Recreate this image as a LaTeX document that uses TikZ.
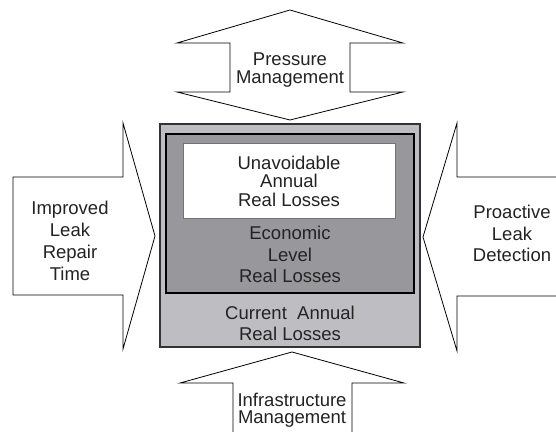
\documentclass[tikz,border=0pt]{standalone}
\usepackage{fontspec}
\setmainfont{Liberation Sans}
\definecolor{outergray}{RGB}{190,190,194}
\definecolor{innergray}{RGB}{152,152,156}
\definecolor{txt}{RGB}{35,35,35}
\begin{document}
\begin{tikzpicture}[x=1pt,y=-1pt,
  arrowshape/.style={draw=black, fill=white, line width=0.8pt, line join=miter},
  arrowline/.style={draw=black, line width=0.8pt, line join=miter},
  lbl/.style={align=center, text=txt, inner sep=0pt},
  tight/.style={font=\fontsize{18.5}{18.5}\selectfont},
  loose/.style={font=\fontsize{18.5}{21.8}\selectfont}]
\useasboundingbox (0,0) rectangle (556,431);
% top double arrow
\draw[arrowshape] (290,10) -- (403,43) -- (350,43) -- (350,92) -- (403,92) -- (290,120)
  -- (177,92) -- (230,92) -- (230,43) -- (177,43) -- cycle;
% left arrow
\draw[arrowshape] (13,177) -- (123,177) -- (123,123) -- (155,236) -- (123,349)
  -- (123,295) -- (13,295) -- cycle;
% right arrow (open at right edge)
\fill[white] (558,177) -- (457,177) -- (457,123) -- (423,237) -- (457,351) -- (457,296) -- (558,296) -- cycle;
\draw[arrowline] (558,177) -- (457,177) -- (457,123) -- (423,237) -- (457,351) -- (457,296) -- (558,296);
% bottom arrow (open at bottom edge)
\fill[white] (233,433) -- (233,383) -- (180,383) -- (292,352) -- (404,383) -- (352,383) -- (352,433) -- cycle;
\draw[arrowline] (233,433) -- (233,383) -- (180,383) -- (292,352) -- (404,383) -- (352,383) -- (352,433);
% boxes
\draw[fill=outergray, draw=black!80, line width=1.2pt] (160,124) rectangle (420,347);
\draw[fill=innergray, draw=black, line width=1.8pt] (166,134) rectangle (414,293);
\draw[fill=white, draw=black!55, line width=1pt] (183,143) rectangle (395,218);
% labels
\node[lbl, tight] (press) at (290,70) {Pressure\\Management};
\node[lbl, tight] (unav) at (289,181) {Unavoidable\\Annual\\Real Losses};
\node[lbl, loose] (econ) at (290,254.5) {Economic\\Level\\Real Losses};
\node[lbl, font=\fontsize{18.5}{21}\selectfont] (curr) at (290,323) {Current\ \ Annual\\Real Losses};
\node[lbl, loose] (impr) at (70,241) {Improved\\Leak\\Repair\\Time};
\node[lbl, loose] (proa) at (512,233.5) {Proactive\\Leak\\Detection};
\node[lbl, font=\fontsize{18.5}{17.5}\selectfont] (infra) at (292,410) {Infrastructure\\Management};
\end{tikzpicture}
\end{document}
